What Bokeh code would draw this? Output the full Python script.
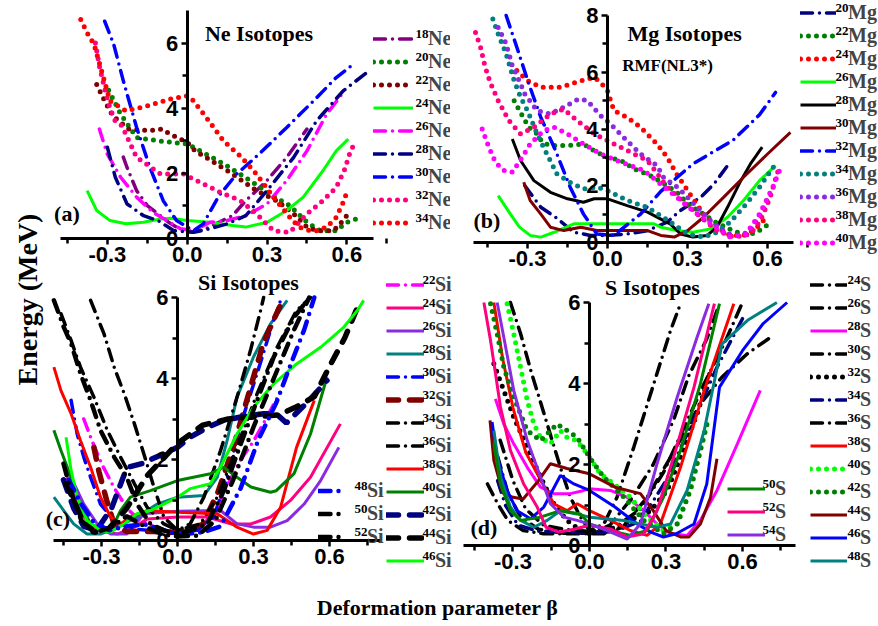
import math
from bokeh.plotting import figure
from bokeh.models import Legend, LegendItem, Label, FixedTicker, NumeralTickFormatter, Range1d
from bokeh.layouts import row, column
from bokeh.embed import file_html
from bokeh.resources import INLINE

# ---------------- data: (a) Ne isotopes ----------------
ne18_b = [-0.24, -0.226, -0.19, -0.15, -0.11, -0.07, -0.03, 0.02, 0.07, 0.12, 0.17, 0.22, 0.30, 0.374, 0.45]
ne18_e = [2.5, 2.18, 1.47, 1.01, 0.76, 0.5, 0.3, 0.2, 0.3, 0.5, 0.7, 1.16, 1.78, 2.49, 3.36]
ne20_b = [-0.295, -0.25, -0.19, -0.11, 0.0, 0.06, 0.15, 0.236, 0.32, 0.386, 0.45, 0.5, 0.56, 0.6, 0.636]
ne20_e = [4.55, 3.82, 3.1, 3.0, 2.9, 2.64, 2.23, 1.78, 1.32, 1.01, 0.5, 0.24, 0.24, 0.5, 0.6]
ne22_b = [-0.34, -0.31, -0.28, -0.22, -0.14, -0.095, -0.064, 0.0, 0.03, 0.09, 0.17, 0.26, 0.336, 0.4, 0.45, 0.49, 0.55, 0.58, 0.605]
ne22_e = [4.73, 4.22, 3.77, 3.36, 3.31, 3.36, 3.2, 2.95, 2.69, 2.39, 1.98, 1.47, 1.16, 0.76, 0.35, 0.24, 0.24, 0.5, 0.76]
ne24_b = [-0.376, -0.34, -0.29, -0.23, -0.164, -0.1, -0.064, 0.0, 0.086, 0.17, 0.22, 0.3, 0.374, 0.436, 0.51, 0.56, 0.605]
ne24_e = [1.47, 0.86, 0.55, 0.45, 0.5, 0.6, 0.62, 0.55, 0.5, 0.4, 0.35, 0.5, 0.86, 1.27, 2.08, 2.69, 3.05]
ne26_b = [-0.33, -0.30, -0.25, -0.19, -0.13, -0.076, -0.026, 0.024, 0.086, 0.15, 0.22, 0.30, 0.374, 0.45, 0.524, 0.586]
ne26_e = [3.36, 2.59, 1.88, 1.27, 0.81, 0.55, 0.3, 0.24, 0.5, 0.55, 0.7, 1.06, 1.78, 2.69, 3.82, 4.48]
ne28_b = [-0.30, -0.27, -0.226, -0.164, -0.11, -0.05, 0.024, 0.086, 0.15, 0.22, 0.30, 0.40, 0.486, 0.586, 0.674]
ne28_e = [2.8, 1.88, 1.06, 0.7, 0.55, 0.24, 0.19, 0.3, 0.45, 0.7, 1.47, 2.49, 3.61, 4.53, 5.09]
ne30_b = [-0.31, -0.276, -0.24, -0.19, -0.14, -0.09, -0.04, 0.024, 0.06, 0.12, 0.186, 0.27, 0.374, 0.474, 0.56, 0.624]
ne30_e = [6.67, 5.96, 4.84, 3.41, 2.18, 1.16, 0.55, 0.24, 0.45, 1.32, 1.98, 2.59, 3.41, 4.22, 4.94, 5.35]
ne32_b = [-0.345, -0.33, -0.31, -0.29, -0.27, -0.245, -0.19, -0.1, -0.014, 0.05, 0.124, 0.2, 0.26, 0.324, 0.386, 0.45, 0.51, 0.56, 0.59, 0.61, 0.624]
ne32_e = [6.0, 5.3, 4.6, 4.0, 3.6, 3.46, 2.49, 1.98, 1.98, 1.72, 1.42, 1.16, 0.76, 0.24, 0.19, 0.76, 1.16, 1.57, 2.08, 2.59, 2.85]
ne34_b = [-0.40, -0.375, -0.35, -0.32, -0.29, -0.23, -0.15, -0.064, 0.0, 0.018, 0.067, 0.136, 0.205, 0.26, 0.324, 0.386, 0.42, 0.46, 0.49, 0.524, 0.56, 0.586, 0.6]
ne34_e = [6.72, 6.3, 5.96, 5.1, 4.22, 3.92, 4.07, 4.28, 4.38, 4.28, 3.77, 3.0, 2.49, 1.98, 1.27, 0.65, 0.35, 0.24, 0.24, 0.35, 0.65, 1.11, 1.42]

# ---------------- data: (b) Mg isotopes ----------------
mg20_b = [-0.31, -0.25, -0.195, -0.126, -0.064, 0.0, 0.074, 0.15, 0.224, 0.274, 0.35, 0.40, 0.455]
mg20_e = [2.0, 1.24, 0.89, 0.36, 0.25, 0.25, 0.3, 0.42, 0.72, 1.13, 1.6, 2.07, 2.77]
mg22_b = [-0.35, -0.33, -0.295, -0.264, -0.245, -0.214, -0.15, -0.09, -0.04, 0.0, 0.05, 0.1, 0.16, 0.224, 0.27, 0.3, 0.36, 0.405, 0.47, 0.52, 0.56, 0.615]
mg22_e = [5.0, 4.65, 4.06, 3.83, 3.53, 3.42, 3.42, 3.47, 3.18, 3.0, 2.89, 2.59, 2.36, 2.0, 1.7, 1.36, 1.0, 0.72, 0.42, 0.25, 0.36, 0.72]
mg24_b = [-0.34, -0.30, -0.25, -0.176, -0.1, -0.05, -0.026, 0.0, 0.024, 0.074, 0.124, 0.186, 0.224, 0.26, 0.31, 0.36, 0.41, 0.46, 0.51, 0.555, 0.59]
mg24_e = [6.06, 5.7, 5.47, 5.47, 5.7, 5.82, 5.64, 5.35, 4.65, 4.41, 4.06, 3.47, 3.0, 2.4, 1.7, 1.0, 0.54, 0.25, 0.25, 0.48, 0.83]
mg26_b = [-0.41, -0.364, -0.33, -0.29, -0.25, -0.2, -0.126, 0.0, 0.174, 0.2, 0.26, 0.32, 0.386, 0.45, 0.51, 0.57, 0.63]
mg26_e = [1.65, 1.0, 0.54, 0.25, 0.19, 0.36, 0.66, 0.66, 0.66, 0.54, 0.42, 0.36, 0.48, 0.89, 1.48, 2.18, 2.71]
mg28_b = [-0.357, -0.326, -0.276, -0.214, -0.15, -0.09, -0.05, 0.0, 0.074, 0.15, 0.236, 0.274, 0.32, 0.374, 0.41, 0.45, 0.5, 0.536, 0.58]
mg28_e = [3.65, 2.89, 2.18, 1.77, 1.54, 1.42, 1.54, 1.54, 1.3, 1.07, 0.65, 0.3, 0.19, 0.25, 0.54, 1.24, 2.18, 2.77, 3.36]
mg30_b = [-0.314, -0.29, -0.25, -0.214, -0.164, -0.1, -0.04, 0.024, 0.15, 0.2, 0.25, 0.3, 0.36, 0.436, 0.51, 0.6, 0.686]
mg30_e = [2.12, 1.48, 1.0, 0.54, 0.42, 0.54, 0.42, 0.42, 0.42, 0.25, 0.19, 0.42, 0.89, 1.6, 2.3, 3.12, 3.88]
mg32_b = [-0.38, -0.34, -0.295, -0.25, -0.195, -0.14, -0.09, -0.04, 0.024, 0.124, 0.2, 0.32, 0.47, 0.57, 0.63]
mg32_e = [8.0, 6.88, 5.59, 4.41, 3.24, 1.95, 1.0, 0.3, 0.25, 1.0, 1.8, 2.77, 3.6, 4.5, 5.29]
mg34_b = [-0.43, -0.41, -0.38, -0.35, -0.326, -0.3, -0.264, -0.24, -0.19, -0.14, -0.09, -0.04, 0.0, 0.074, 0.15, 0.224, 0.3, 0.36, 0.41, 0.46, 0.52, 0.57, 0.63]
mg34_e = [7.88, 7.35, 6.64, 5.7, 5.12, 4.65, 3.83, 3.36, 2.42, 2.12, 1.89, 1.95, 1.83, 1.48, 1.24, 0.8, 0.3, 0.19, 0.36, 0.72, 1.36, 1.95, 2.77]
mg36_b = [-0.41, -0.38, -0.357, -0.326, -0.31, -0.264, -0.214, -0.164, -0.108, -0.076, -0.026, 0.011, 0.06, 0.124, 0.186, 0.21, 0.27, 0.336, 0.386, 0.45, 0.5, 0.536, 0.574, 0.61]
mg36_e = [7.58, 7.0, 6.23, 5.59, 5.23, 4.65, 4.53, 4.77, 5.06, 5.0, 4.47, 4.18, 3.71, 3.12, 2.71, 2.3, 1.89, 1.24, 0.77, 0.3, 0.25, 0.42, 1.0, 1.71]
mg38_b = [-0.495, -0.476, -0.46, -0.44, -0.41, -0.37, -0.326, -0.276, -0.214, -0.164, -0.114, -0.05, 0.0, 0.074, 0.15, 0.224, 0.286, 0.35, 0.41, 0.474, 0.536, 0.574, 0.61, 0.64]
mg38_e = [7.4, 6.88, 6.23, 5.64, 5.0, 4.3, 3.83, 4.06, 4.53, 4.7, 4.3, 3.83, 3.59, 3.24, 2.89, 1.95, 1.42, 0.89, 0.42, 0.19, 0.3, 0.77, 1.6, 2.54]
mg40_b = [-0.47, -0.445, -0.42, -0.39, -0.357, -0.32, -0.29, -0.24, -0.2, -0.15, -0.09, -0.026, 0.05, 0.136, 0.22, 0.32, 0.386, 0.46, 0.52, 0.57, 0.62, 0.65]
mg40_e = [4.0, 3.36, 2.83, 2.54, 2.48, 3.0, 3.47, 3.94, 4.06, 3.83, 3.47, 3.12, 2.83, 2.54, 1.9, 1.13, 0.66, 0.19, 0.3, 1.0, 1.95, 2.65]

# ---------------- data: (c) Si isotopes ----------------
si22_b = [-0.37, -0.34, -0.3, -0.25, -0.2, -0.15, -0.08, 0.0, 0.09, 0.15, 0.2, 0.25, 0.3, 0.34, 0.4]
si22_e = [3.0, 2.5, 1.9, 1.3, 0.8, 0.5, 0.3, 0.2, 0.3, 0.75, 1.4, 2.0, 2.45, 2.9, 3.6]
si24_b = [-0.436, -0.41, -0.37, -0.317, -0.238, -0.17, -0.12, 0.0, 0.117, 0.21, 0.29, 0.367, 0.446, 0.525, 0.643]
si24_e = [1.56, 1.23, 0.58, 0.25, 0.16, 0.33, 0.53, 0.58, 0.58, 0.41, 0.41, 0.58, 0.99, 1.56, 2.88]
si26_b = [-0.42, -0.37, -0.317, -0.264, -0.2, -0.133, 0.0, 0.17, 0.235, 0.3, 0.367, 0.433, 0.5, 0.565, 0.637]
si26_e = [1.56, 0.9, 0.41, 0.16, 0.16, 0.66, 0.72, 0.74, 0.41, 0.33, 0.33, 0.49, 0.9, 1.48, 2.3]
si28_b = [-0.488, -0.449, -0.41, -0.357, -0.304, -0.238, -0.16, -0.08, 0.0, 0.104, 0.157, 0.196, 0.235, 0.3, 0.367, 0.433]
si28_e = [1.07, 0.74, 0.41, 0.16, 0.16, 0.33, 0.58, 0.9, 1.07, 1.11, 1.56, 2.47, 3.54, 4.53, 5.35, 5.93]
si30_b = [-0.42, -0.396, -0.37, -0.343, -0.304, -0.25, -0.186, -0.107, 0.0, 0.078, 0.143, 0.196, 0.25, 0.314, 0.367, 0.407]
si30_e = [3.46, 2.63, 2.06, 1.56, 0.9, 0.49, 0.29, 0.25, 0.21, 0.25, 0.58, 1.56, 2.88, 4.12, 5.19, 5.93]
si32_b = [-0.33, -0.31, -0.28, -0.25, -0.2, -0.1, 0.0, 0.1, 0.16, 0.22, 0.28, 0.34, 0.42]
si32_e = [2.3, 1.7, 1.0, 0.4, 0.22, 0.22, 0.2, 0.4, 1.2, 2.3, 3.6, 4.9, 6.0]
si34_b = [-0.46, -0.42, -0.383, -0.33, -0.277, -0.225, -0.17, -0.12, -0.054, 0.0, 0.09, 0.157, 0.235, 0.314, 0.393, 0.47, 0.525]
si34_e = [5.6, 4.94, 4.28, 3.54, 2.72, 2.06, 1.4, 0.82, 0.41, 0.25, 0.41, 1.07, 2.3, 3.62, 4.77, 5.68, 6.0]
si36_b = [-0.343, -0.29, -0.25, -0.21, -0.17, -0.133, -0.093, -0.054, 0.0, 0.05, 0.104, 0.17, 0.235, 0.288, 0.328, 0.34]
si36_e = [5.93, 5.1, 4.28, 3.62, 2.88, 2.14, 1.32, 0.58, 0.25, 0.41, 1.07, 2.22, 3.54, 4.69, 5.68, 6.0]
si38_b = [-0.488, -0.46, -0.42, -0.383, -0.343, -0.304, -0.264, -0.225, -0.186, -0.12, 0.0, 0.157, 0.235, 0.3, 0.354, 0.407, 0.47, 0.54]
si38_e = [4.28, 3.7, 3.13, 2.47, 1.81, 1.07, 0.58, 0.41, 0.58, 0.74, 0.7, 0.66, 0.33, 0.16, 0.25, 0.82, 2.3, 3.46]
si40_b = [-0.488, -0.46, -0.435, -0.396, -0.343, -0.29, -0.25, -0.225, -0.186, -0.107, 0.0, 0.13, 0.183, 0.235, 0.29, 0.367, 0.39, 0.46, 0.525, 0.59]
si40_e = [2.72, 2.22, 1.81, 1.07, 0.41, 0.25, 0.41, 0.74, 1.07, 1.23, 1.48, 1.65, 1.81, 1.56, 1.32, 1.19, 1.23, 1.65, 2.63, 4.03]
si42_b = [-0.45, -0.41, -0.37, -0.32, -0.26, -0.2, -0.14, -0.07, 0.0, 0.05, 0.12, 0.18, 0.25, 0.34, 0.39, 0.43, 0.52, 0.59]
si42_e = [1.5, 0.8, 0.35, 0.25, 0.8, 1.8, 1.9, 2.1, 2.3, 2.55, 2.8, 2.96, 3.05, 3.13, 3.13, 2.9, 3.46, 3.95]
si44_b = [-0.44, -0.38, -0.33, -0.27, -0.2, -0.12, -0.06, 0.0, 0.1, 0.2, 0.3, 0.4, 0.47, 0.54, 0.6, 0.66, 0.72]
si44_e = [1.4, 0.6, 0.2, 0.3, 0.8, 1.6, 2.0, 2.4, 2.85, 3.0, 3.05, 3.1, 3.3, 3.55, 4.3, 5.0, 5.9]
si46_b = [-0.44, -0.42, -0.396, -0.357, -0.304, -0.264, -0.21, -0.16, -0.107, -0.054, 0.0, 0.05, 0.13, 0.17, 0.235, 0.3, 0.38, 0.47, 0.565, 0.657, 0.71, 0.735]
si46_e = [2.55, 1.73, 1.07, 0.49, 0.25, 0.21, 0.41, 0.66, 0.74, 0.9, 1.07, 1.28, 1.4, 1.81, 2.63, 3.29, 3.87, 4.36, 4.77, 5.27, 5.68, 5.93]
si48_b = [-0.43, -0.38, -0.33, -0.27, -0.2, -0.13, -0.05, 0.0, 0.1, 0.17, 0.25, 0.32, 0.39, 0.45, 0.5, 0.54]
si48_e = [1.5, 0.9, 0.45, 0.25, 0.35, 0.4, 0.25, 0.15, 0.2, 0.35, 1.3, 2.5, 3.4, 4.4, 5.2, 6.0]
si50_b = [-0.488, -0.449, -0.42, -0.383, -0.343, -0.304, -0.25, -0.2, -0.16, -0.107, -0.054, 0.0, 0.05, 0.117, 0.183, 0.25, 0.314, 0.38, 0.46, 0.512]
si50_e = [5.93, 5.27, 4.86, 4.12, 3.46, 2.72, 2.06, 1.56, 0.9, 0.41, 0.25, 0.16, 0.25, 0.41, 1.23, 2.39, 3.46, 4.53, 5.51, 5.93]
si52_b = [-0.45, -0.42, -0.38, -0.33, -0.27, -0.2, -0.13, -0.06, 0.0, 0.08, 0.15, 0.22, 0.3, 0.38, 0.46, 0.52]
si52_e = [1.9, 1.2, 0.5, 0.2, 0.3, 0.6, 0.35, 0.15, 0.1, 0.12, 0.5, 1.5, 2.8, 4.0, 5.2, 6.0]

# ---------------- data: (d) S isotopes ----------------
s24_b = [-0.31, -0.27, -0.23, -0.19, -0.15, -0.11, -0.075, -0.035, 0.0, 0.056, 0.108, 0.174, 0.252, 0.318, 0.357]
s24_e = [6.0, 5.23, 4.32, 3.5, 2.67, 1.85, 1.19, 0.7, 0.37, 0.53, 1.19, 2.43, 3.99, 5.31, 5.97]
s26_b = [-0.4, -0.36, -0.32, -0.26, -0.18, -0.1, 0.0, 0.056, 0.13, 0.226, 0.318, 0.435, 0.52, 0.618, 0.71]
s26_e = [1.52, 1.03, 0.62, 0.37, 0.29, 0.29, 0.29, 0.29, 0.45, 1.19, 2.18, 3.5, 4.16, 4.73, 5.14]
s28_b = [-0.369, -0.336, -0.297, -0.244, -0.192, -0.14, -0.075, -0.022, 0.0, 0.082, 0.148, 0.213, 0.265, 0.318, 0.383, 0.435, 0.5, 0.58, 0.67]
s28_e = [3.62, 3.0, 2.51, 1.93, 1.44, 1.28, 1.28, 1.36, 1.4, 1.36, 1.19, 0.86, 0.53, 0.29, 0.25, 0.62, 1.36, 2.51, 3.83]
s30_b = [-0.36, -0.32, -0.27, -0.2, -0.1, 0.0, 0.08, 0.17, 0.25, 0.33, 0.39, 0.46, 0.5]
s30_e = [2.2, 1.3, 0.7, 0.4, 0.3, 0.3, 0.5, 1.2, 2.0, 3.1, 4.2, 5.1, 5.8]
s32_b = [-0.375, -0.336, -0.297, -0.244, -0.192, -0.14, -0.088, -0.035, 0.0, 0.082, 0.16, 0.24, 0.305, 0.357, 0.422, 0.48]
s32_e = [4.49, 3.83, 3.17, 2.43, 1.69, 1.03, 0.62, 0.37, 0.29, 0.37, 0.62, 0.86, 1.36, 2.18, 3.25, 4.4]
s34_b = [-0.36, -0.33, -0.28, -0.2, -0.1, 0.0, 0.1, 0.2, 0.3, 0.4, 0.5, 0.6]
s34_e = [1.6, 1.0, 0.5, 0.35, 0.35, 0.3, 0.35, 0.6, 1.6, 3.0, 4.4, 5.6]
s36_b = [-0.35, -0.3, -0.25, -0.18, -0.1, 0.0, 0.1, 0.2, 0.29, 0.37, 0.45, 0.53, 0.6]
s36_e = [2.6, 1.6, 0.9, 0.5, 0.4, 0.35, 0.45, 0.9, 1.8, 2.9, 4.0, 5.0, 6.0]
s38_b = [-0.375, -0.34, -0.3, -0.25, -0.19, -0.14, -0.088, -0.048, 0.0, 0.082, 0.16, 0.226, 0.278, 0.357, 0.45, 0.566]
s38_e = [6.0, 4.6, 3.4, 2.3, 1.6, 1.03, 0.86, 1.03, 0.86, 0.62, 0.37, 0.25, 0.53, 1.93, 3.83, 5.97]
s40_b = [-0.323, -0.297, -0.27, -0.244, -0.218, -0.192, -0.153, -0.114, -0.088, -0.048, 0.0, 0.043, 0.096, 0.16, 0.226, 0.29, 0.344, 0.383, 0.422, 0.46]
s40_e = [5.97, 5.23, 4.4, 3.58, 3.0, 2.67, 2.51, 2.84, 2.67, 2.59, 2.18, 1.77, 1.52, 1.19, 0.7, 0.37, 0.53, 1.19, 2.02, 3.0]
s42_b = [-0.388, -0.362, -0.336, -0.297, -0.244, -0.192, -0.127, -0.088, -0.048, 0.0, 0.056, 0.135, 0.213, 0.29, 0.344, 0.396, 0.435, 0.468]
s42_e = [5.97, 5.23, 4.4, 3.66, 2.84, 2.59, 3.0, 2.84, 2.67, 2.18, 1.69, 1.19, 0.62, 0.29, 0.53, 1.36, 2.35, 3.17]
s44_b = [-0.39, -0.375, -0.34, -0.3, -0.26, -0.2, -0.153, -0.088, 0.0, 0.1, 0.2, 0.25, 0.3, 0.357, 0.39, 0.435, 0.475, 0.5]
s44_e = [3.09, 2.1, 1.3, 1.19, 1.15, 1.6, 2.02, 1.9, 1.77, 1.44, 1.28, 0.86, 0.37, 0.21, 0.21, 0.53, 1.19, 2.14]
s46_b = [-0.382, -0.362, -0.323, -0.284, -0.231, -0.179, -0.114, -0.061, 0.0, 0.1, 0.187, 0.24, 0.29, 0.34, 0.41, 0.46, 0.51, 0.6, 0.68, 0.775]
s46_e = [3.05, 2.18, 1.36, 0.86, 0.66, 0.95, 1.73, 1.52, 1.36, 0.95, 0.53, 0.33, 0.21, 0.29, 0.53, 1.52, 3.91, 4.81, 5.47, 6.0]
s48_b = [-0.375, -0.349, -0.31, -0.27, -0.218, -0.166, -0.114, -0.05, 0.0, 0.135, 0.2, 0.265, 0.318, 0.383, 0.45, 0.52, 0.62, 0.735]
s48_e = [2.84, 1.69, 0.95, 0.62, 0.45, 0.62, 0.86, 0.78, 0.7, 0.62, 0.53, 0.45, 0.53, 1.36, 2.84, 4.98, 5.56, 6.0]
s50_b = [-0.375, -0.349, -0.31, -0.27, -0.192, -0.114, -0.035, 0.0, 0.082, 0.16, 0.226, 0.29, 0.357, 0.435, 0.51]
s50_e = [2.51, 1.52, 0.86, 0.62, 0.7, 0.86, 0.78, 0.53, 0.37, 0.25, 0.37, 1.19, 2.35, 3.99, 5.97]
s52_b = [-0.414, -0.388, -0.349, -0.31, -0.258, -0.205, -0.17, -0.12, -0.061, 0.0, 0.082, 0.148, 0.213, 0.265, 0.33, 0.41, 0.49]
s52_e = [6.0, 5.06, 3.42, 2.35, 1.52, 0.95, 0.45, 0.33, 0.4, 0.5, 0.41, 0.21, 0.29, 0.86, 2.18, 3.91, 5.97]
s54_b = [-0.362, -0.336, -0.297, -0.244, -0.192, -0.153, -0.1, -0.048, 0.0, 0.069, 0.148, 0.2, 0.265, 0.344, 0.422, 0.468]
s54_e = [6.0, 5.14, 3.83, 2.59, 1.69, 1.03, 0.7, 0.62, 0.53, 0.37, 0.16, 0.53, 2.02, 3.66, 5.14, 5.97]

x_ticks = [-0.3, 0.0, 0.3, 0.6]
x_minor = [-0.45, -0.15, 0.15, 0.45, 0.75]

# ---------------- styling ----------------
SERIF = "Liberation Serif"
SANS = "Liberation Sans"
PURPLE, GREEN, DRED, LIME = "#800080", "#008000", "#800000", "#00ff00"
MAGENTA, NAVY, BLUE, PINK, RED = "#ff00ff", "#000080", "#0000ff", "#ff0080", "#ff0000"
TEAL, VIOLET, BLACK = "#008080", "#8a2be2", "#000000"

STYLES = {
    "solid": dict(line_width=3),
    "dot": dict(line_width=5, line_dash="0 8", line_cap="round"),
    "dashdot": dict(line_width=3.5, line_dash="12 7 0 7", line_cap="round"),
    "dashdot2": dict(line_width=4.5, line_dash="12 8 0 8", line_cap="round"),
    "dash": dict(line_width=5.5, line_dash="12 11", line_cap="round"),
}
ROW = 23  # legend row pitch in pixels


def panel(w, h, xlo, xhi, ylo, yhi, fx0, fx1, fy0, fy1, yt, ym):
    """Frame fills the whole figure; the data box [xlo,xhi]x[ylo,yhi] sits at
    pixels fx0..fx1 (from left) and fy1..fy0 (from top)."""
    sx = (xhi - xlo) / (fx1 - fx0)
    sy = (yhi - ylo) / (fy0 - fy1)
    xr = Range1d(xlo - fx0 * sx, xhi + (w - fx1) * sx)
    yr = Range1d(ylo - (h - fy0) * sy, yhi + fy1 * sy)
    p = figure(width=w, height=h, x_range=xr, y_range=yr,
               output_backend="svg", toolbar_location=None, min_border=0)
    p.outline_line_color = None
    p.xgrid.visible = False
    p.ygrid.visible = False
    p.background_fill_color = "white"
    for ax in (p.xaxis[0], p.yaxis[0]):
        ax.fixed_location = 0
        ax.axis_line_width = 3
        ax.major_tick_line_width = 2.5
        ax.minor_tick_line_width = 2.5
        ax.major_tick_in = 0
        ax.minor_tick_in = 0
        ax.major_tick_out = 6
        ax.minor_tick_out = 5
        ax.major_label_text_font = SANS
        ax.major_label_text_font_style = "bold"
        ax.major_label_text_font_size = "22px"
        ax.major_label_text_color = "black"
    p.xaxis[0].bounds = (xlo, xhi)
    p.yaxis[0].bounds = (ylo, yhi)
    p.xaxis[0].ticker = FixedTicker(ticks=x_ticks, minor_ticks=x_minor)
    p.xaxis[0].formatter = NumeralTickFormatter(format="0.0")
    p.xaxis[0].major_label_standoff = 2
    p.yaxis[0].ticker = FixedTicker(ticks=yt, minor_ticks=ym)
    p.yaxis[0].major_label_standoff = 3
    return p


def draw(p, series):
    out = []
    for a, b, e, color, style in series:
        r = p.line(b, e, line_color=color, **STYLES[style])
        out.append((a, r))
    return out


def add_legend(p, entries, el, gx, yb, gw, sym_off):
    """Legend glyphs + element symbol as legend labels; the mass number is a
    small raised label placed just before the symbol."""
    n = len(entries)
    lg = Legend(items=[LegendItem(label=el, renderers=[r]) for a, r in entries],
                location=(gx, yb), orientation="vertical", glyph_width=gw, glyph_height=ROW,
                label_height=ROW, label_width=10, spacing=0, padding=0, margin=0,
                border_line_color=None, background_fill_alpha=0, label_standoff=sym_off - gw,
                label_text_font=SERIF, label_text_font_style="bold",
                label_text_font_size="20px", label_text_baseline="middle")
    p.add_layout(lg)
    for i, (a, r) in enumerate(entries):
        yc = yb + (n - i - 0.5) * ROW
        p.add_layout(Label(x=gx + sym_off, y=yc + 5, x_units="screen", y_units="screen",
                           text=str(a), text_font=SERIF, text_font_style="bold",
                           text_font_size="13px", text_align="right", text_baseline="middle",
                           text_color="black"))


def text(p, x, y, s, size="22px", align="center"):
    p.add_layout(Label(x=x, y=y, text=s, text_font=SERIF, text_font_style="bold",
                       text_font_size=size, text_align=align, text_baseline="middle",
                       text_color="black"))


# ---------------- (a) Ne ----------------
pa = panel(406, 271, -0.476, 0.70, 0, 7, 16, 329, 238, 10, [0, 2, 4, 6], [1, 3, 5])
ne = draw(pa, [
    (18, ne18_b, ne18_e, PURPLE, "dashdot"),
    (20, ne20_b, ne20_e, GREEN, "dot"),
    (22, ne22_b, ne22_e, DRED, "dot"),
    (24, ne24_b, ne24_e, LIME, "solid"),
    (26, ne26_b, ne26_e, MAGENTA, "dashdot"),
    (28, ne28_b, ne28_e, NAVY, "dashdot"),
    (30, ne30_b, ne30_e, BLUE, "dashdot"),
    (32, ne32_b, ne32_e, PINK, "dot"),
    (34, ne34_b, ne34_e, RED, "dot"),
])
add_legend(pa, ne, "Ne", 329, 37.5, 40, 55)
text(pa, 0.27, 6.29, "Ne Isotopes")
text(pa, -0.50, 0.77, "(a)", align="left")

# ---------------- (b) Mg ----------------
pb = panel(428, 271, -0.5025, 0.6975, 0, 8, 23, 343, 242, 15, [0, 2, 4, 6, 8], [1, 3, 5, 7])
mg = draw(pb, [
    (20, mg20_b, mg20_e, NAVY, "dashdot"),
    (22, mg22_b, mg22_e, GREEN, "dot"),
    (24, mg24_b, mg24_e, RED, "dot"),
    (26, mg26_b, mg26_e, LIME, "solid"),
    (28, mg28_b, mg28_e, BLACK, "solid"),
    (30, mg30_b, mg30_e, DRED, "solid"),
    (32, mg32_b, mg32_e, BLUE, "dashdot"),
    (34, mg34_b, mg34_e, TEAL, "dot"),
    (36, mg36_b, mg36_e, VIOLET, "dot"),
    (38, mg38_b, mg38_e, PINK, "dot"),
    (40, mg40_b, mg40_e, MAGENTA, "dot"),
])
add_legend(pb, mg, "Mg", 350, 17.5, 36, 48)
text(pb, 0.289, 7.37, "Mg Isotopes")
text(pb, 0.225, 6.24, "RMF(NL3*)", size="17px")
text(pb, -0.5025, 0.78, "(b)", align="left")

# ---------------- (c) Si ----------------
pc = panel(411, 304, -0.4895, 0.8014, 0, 6, 9, 336, 269, 26, [0, 2, 4, 6], [1, 3, 5])
si = draw(pc, [
    (22, si22_b, si22_e, MAGENTA, "dashdot"),
    (24, si24_b, si24_e, PINK, "solid"),
    (26, si26_b, si26_e, VIOLET, "solid"),
    (28, si28_b, si28_e, TEAL, "solid"),
    (30, si30_b, si30_e, BLUE, "dashdot"),
    (32, si32_b, si32_e, DRED, "dash"),
    (34, si34_b, si34_e, BLACK, "dashdot"),
    (36, si36_b, si36_e, BLACK, "dashdot"),
    (38, si38_b, si38_e, RED, "solid"),
    (40, si40_b, si40_e, GREEN, "solid"),
    (42, si42_b, si42_e, NAVY, "dash"),
    (44, si44_b, si44_e, BLACK, "dash"),
    (46, si46_b, si46_e, LIME, "solid"),
    (48, si48_b, si48_e, BLUE, "dashdot2"),
    (50, si50_b, si50_e, BLACK, "dashdot2"),
    (52, si52_b, si52_e, BLACK, "dashdot2"),
])
add_legend(pc, si[:13], "Si", 342, 3.5, 38, 49)
add_legend(pc, si[13:], "Si", 274, 27.5, 28, 49)
text(pc, 0.28, 6.37, "Si Isotopes")
text(pc, -0.52, 0.54, "(c)", align="left")

# ---------------- (d) S ----------------
pd = panel(423, 304, -0.494, 0.808, 0, 6, 8, 340, 274, 31, [0, 2, 4, 6], [1, 3, 5])
s = draw(pd, [
    (24, s24_b, s24_e, BLACK, "dashdot"),
    (26, s26_b, s26_e, BLACK, "dashdot"),
    (28, s28_b, s28_e, MAGENTA, "solid"),
    (30, s30_b, s30_e, BLACK, "dashdot"),
    (32, s32_b, s32_e, BLACK, "dot"),
    (34, s34_b, s34_e, NAVY, "dashdot"),
    (36, s36_b, s36_e, BLACK, "dashdot"),
    (38, s38_b, s38_e, RED, "solid"),
    (40, s40_b, s40_e, LIME, "dot"),
    (42, s42_b, s42_e, GREEN, "dot"),
    (44, s44_b, s44_e, DRED, "solid"),
    (46, s46_b, s46_e, BLUE, "solid"),
    (48, s48_b, s48_e, TEAL, "solid"),
    (50, s50_b, s50_e, GREEN, "solid"),
    (52, s52_b, s52_e, PINK, "solid"),
    (54, s54_b, s54_e, VIOLET, "solid"),
])
add_legend(pd, s[:13], "S", 355, 3.5, 37, 50)
add_legend(pd, s[13:], "S", 272, 29.5, 38, 48)
text(pd, 0.247, 6.37, "S Isotopes")
text(pd, -0.467, 0.44, "(d)", align="left")

# ---------------- shared axis titles ----------------
ylab = figure(width=44, height=575, x_range=Range1d(0, 44), y_range=Range1d(0, 575),
              output_backend="svg", toolbar_location=None, min_border=0,
              x_axis_type=None, y_axis_type=None)
ylab.outline_line_color = None
ylab.xgrid.visible = False
ylab.ygrid.visible = False
ylab.add_layout(Label(x=27, y=276, text="Energy (MeV)", angle=math.pi / 2, text_font=SERIF,
                      text_font_style="bold", text_font_size="28px", text_align="center",
                      text_baseline="middle", text_color="black"))

xlab = figure(width=878, height=51, x_range=Range1d(0, 878), y_range=Range1d(0, 51),
              output_backend="svg", toolbar_location=None, min_border=0,
              x_axis_type=None, y_axis_type=None)
xlab.outline_line_color = None
xlab.xgrid.visible = False
xlab.ygrid.visible = False
xlab.add_layout(Label(x=437, y=19, text="Deformation parameter β", text_font=SERIF,
                      text_font_style="bold", text_font_size="22px", text_align="center",
                      text_baseline="middle", text_color="black"))

layout = column(row(ylab, column(row(pa, pb), row(pc, pd))), xlab)

open("out.html", "w").write(file_html(layout, INLINE))
